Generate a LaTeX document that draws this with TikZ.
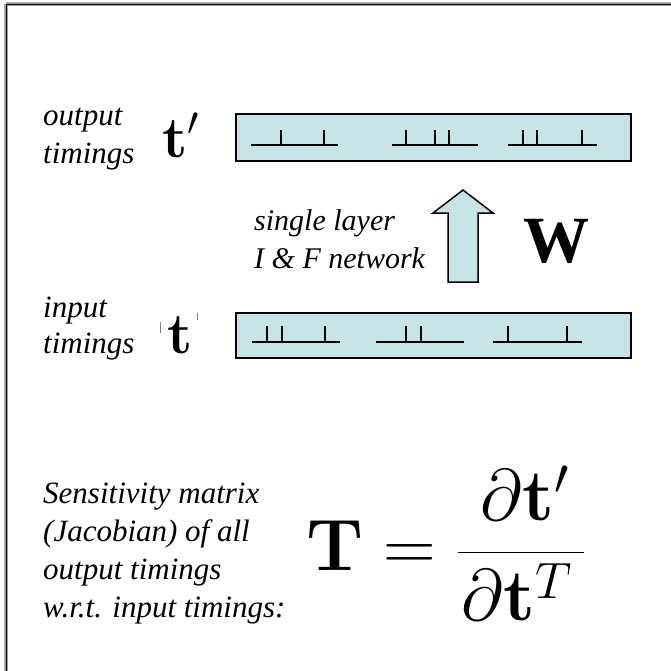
\RequirePackage{fix-cm}
\documentclass[tikz,border=0pt]{standalone}
\usepackage[no-math]{fontspec}
\newfontfamily\tnr{Liberation Serif}
\newfontfamily\tnri{Liberation Serif Italic}
\definecolor{boxblue}{RGB}{198,228,232}
\begin{document}
\begin{tikzpicture}[x=1pt,y=-1pt,
  lbl/.style={font=\tnri\fontsize{31}{38}\selectfont, inner sep=0pt, anchor=base west, align=left},
  bigmath/.style={inner sep=0pt, anchor=base west, font=\fontsize{58}{60}\selectfont},
  trainbox/.style={draw=black, line width=2pt, fill=boxblue},
  spike/.style={line width=1.5pt, black},
]
\useasboundingbox (0,0) rectangle (671,670);
% outer frame (cut by the page at right and bottom)
\draw[gray!70, line width=3.5pt] (6,4) -- (700,4);
\draw[gray!70, line width=3.5pt] (6,4) -- (6,700);
\draw[black, line width=1.5pt] (6,4.5) -- (700,4.5);
\draw[black, line width=1.5pt] (6.5,4) -- (6.5,700);

% output train
\node[trainbox, minimum width=395pt, minimum height=47pt, anchor=north west, inner sep=0pt] (outbox) at (235,113) {};
\foreach \a/\b in {251/338, 392/478, 508/597} \draw[spike] (\a,145) -- (\b,145);
\foreach \s in {281, 324, 406, 435, 449, 523, 537, 582} \draw[spike] (\s,145) -- (\s,130);

% input train
\node[trainbox, minimum width=395pt, minimum height=45pt, anchor=north west, inner sep=0pt] (inbox) at (235,312) {};
\foreach \a/\b in {252/340, 376/464, 493/582} \draw[spike] (\a,342) -- (\b,342);
\foreach \s in {267, 282, 325, 406, 421, 508, 567} \draw[spike] (\s,342) -- (\s,326);

% arrow
\draw[line width=1.5pt, fill=boxblue, line join=miter]
  (448,282) -- (448,213) -- (433,213) -- (463,190) -- (493,213) -- (478,213) -- (478,282) -- cycle;

% labels (base = last line)
\node[lbl] (outlbl) at (43,163) {output\\timings};
\node[lbl] (inlbl) at (43,353) {input\\[-2pt]timings};
\node[lbl, font=\tnri\fontsize{30}{38}\selectfont] (netlbl) at (254,268) {single layer\\I \& F network};
\node[inner sep=0pt, anchor=base west, font=\tnr\bfseries\fontsize{66}{70}\selectfont] (W) at (523,262) {W};

\node[bigmath] (tprime) at (162,157) {$\mathbf{t}'$};
\node[bigmath] (tin) at (167,353) {$\mathbf{t}$};
\draw[gray, line width=1pt] (160,322) -- (160,333);
\draw[gray, line width=0.8pt] (197,313) -- (197,320);

\node[lbl] (sens) at (43,617) {Sensitivity matrix\\(Jacobian) of all\\output timings\\w.r.t. input timings:};
\node[inner sep=0pt, anchor=base west, font=\fontsize{73}{75}\selectfont] (eq) at (306,570)
  {$\displaystyle \mathbf{T} = \frac{\mkern2mu\partial \mathbf{t}'}{\mkern1mu\partial \mathbf{t}^{T}\mkern3mu}$};
\end{tikzpicture}
\end{document}
